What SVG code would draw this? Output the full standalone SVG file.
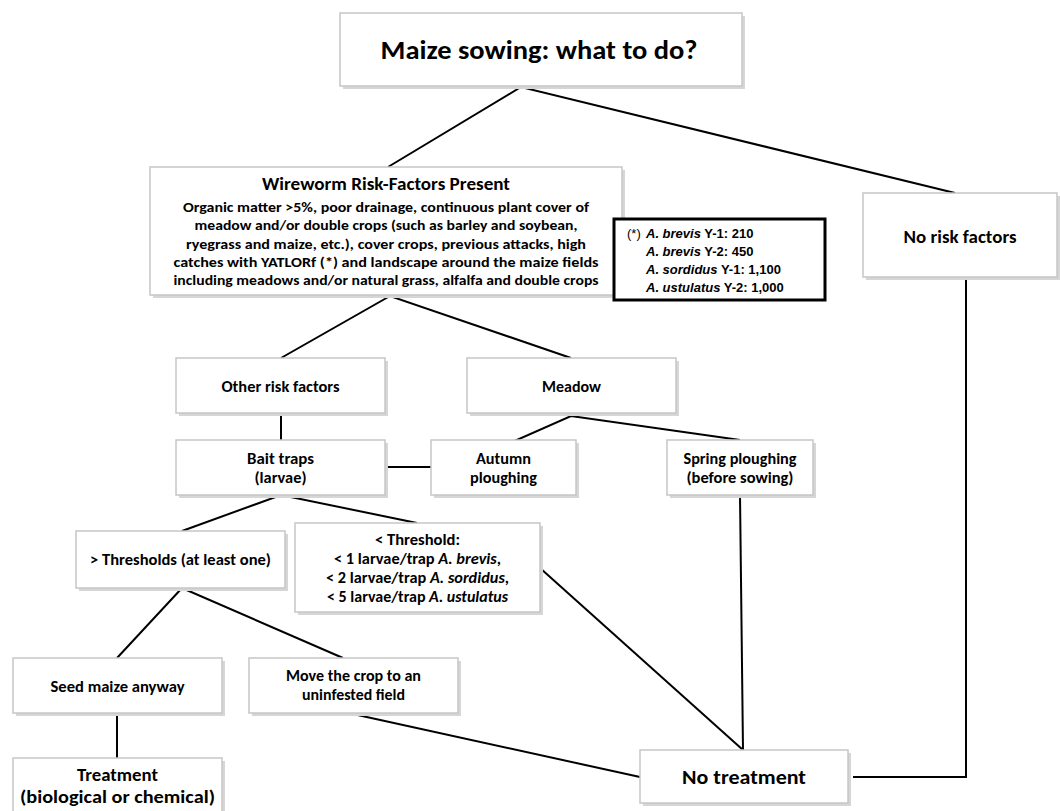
<svg xmlns="http://www.w3.org/2000/svg" width="1060" height="811" viewBox="0 0 1060 811">
<style>
.sh{fill:#d6d6d6}
.bx{fill:#ffffff;stroke:#c6c6c6;stroke-width:1.5}
.t{font-family:Carlito,Lato,"Open Sans",sans-serif;font-weight:700;fill:#000;text-anchor:middle}
.n{font-size:15px}
.c{stroke:#000;stroke-width:2;fill:none}
.ar{font-family:"Liberation Sans",Arial,sans-serif;font-size:13px;font-weight:700;fill:#000}
</style>
<rect width="1060" height="811" fill="#ffffff"/>
<g id="connectors">
<path class="c" d="M388,167 L521,87 L955,193"/>
<path class="c" d="M281,358 L390,296 L571,358"/>
<path class="c" d="M281,413 L281,446"/>
<path class="c" d="M503,446 L571,416 L740,440"/>
<path class="c" d="M385,467 L431,467"/>
<path class="c" d="M182,531 L281,495 L417,523"/>
<path class="c" d="M117,658 L182,588 L343,658"/>
<path class="c" d="M117,713 L117,758"/>
<path class="c" d="M353,714 L640,777"/>
<path class="c" d="M540,568 L743,750"/>
<path class="c" d="M740,495 L743,750"/>
<path class="c" d="M853,777 L966,777 L966,277"/>
</g>
<g id="title">
<rect class="sh" x="343" y="16" width="402" height="73"/>
<rect class="bx" x="340" y="13" width="402" height="73"/>
<text class="t" x="539" y="59" font-size="26" textLength="317" lengthAdjust="spacingAndGlyphs">Maize sowing: what to do?</text>
</g>
<g id="risk-factors">
<rect class="sh" x="153" y="170" width="472" height="128"/>
<rect class="bx" x="150" y="167" width="472" height="128"/>
<text class="t" x="386" y="190" font-size="17" textLength="248" lengthAdjust="spacingAndGlyphs">Wireworm Risk-Factors Present</text>
<text class="t" x="386" y="212" font-size="14" textLength="406" lengthAdjust="spacingAndGlyphs">Organic matter &gt;5%, poor drainage, continuous plant cover of</text>
<text class="t" x="386" y="230" font-size="14" textLength="383" lengthAdjust="spacingAndGlyphs">meadow and/or double crops (such as barley and soybean,</text>
<text class="t" x="386" y="249" font-size="14" textLength="400" lengthAdjust="spacingAndGlyphs">ryegrass and maize, etc.), cover crops, previous attacks, high</text>
<text class="t" x="386" y="267" font-size="14" textLength="425" lengthAdjust="spacingAndGlyphs">catches with YATLORf (*) and landscape around the maize fields</text>
<text class="t" x="386" y="285" font-size="14" textLength="425" lengthAdjust="spacingAndGlyphs">including meadows and/or natural grass, alfalfa and double crops</text>
</g>
<g id="note">
<rect x="614" y="219" width="211" height="81" fill="#ffffff" stroke="#000" stroke-width="3"/>
<text class="ar" x="627" y="238"><tspan font-weight="400">(*)</tspan> <tspan x="646" font-style="italic">A. brevis</tspan> Y-1: 210</text>
<text class="ar" x="646" y="256"><tspan font-style="italic">A. brevis</tspan> Y-2: 450</text>
<text class="ar" x="646" y="274"><tspan font-style="italic">A. sordidus</tspan> Y-1: 1,100</text>
<text class="ar" x="646" y="292"><tspan font-style="italic">A. ustulatus</tspan> Y-2: 1,000</text>
</g>
<g id="no-risk">
<rect class="sh" x="866" y="196" width="194" height="84"/>
<rect class="bx" x="863" y="193" width="194" height="84"/>
<text class="t" x="960" y="243" font-size="17" textLength="113" lengthAdjust="spacingAndGlyphs">No risk factors</text>
</g>
<g id="other-risk">
<rect class="sh" x="179" y="361" width="209" height="55"/>
<rect class="bx" x="176" y="358" width="209" height="55"/>
<text class="t n" x="280.5" y="392" textLength="118" lengthAdjust="spacingAndGlyphs">Other risk factors</text>
</g>
<g id="meadow">
<rect class="sh" x="470" y="361" width="209" height="55"/>
<rect class="bx" x="467" y="358" width="209" height="55"/>
<text class="t n" x="571.5" y="392" textLength="59" lengthAdjust="spacingAndGlyphs">Meadow</text>
</g>
<g id="bait-traps">
<rect class="sh" x="179" y="443" width="209" height="55"/>
<rect class="bx" x="176" y="440" width="209" height="55"/>
<text class="t n" x="280.5" y="464" textLength="67" lengthAdjust="spacingAndGlyphs">Bait traps</text>
<text class="t n" x="280.5" y="483" textLength="52" lengthAdjust="spacingAndGlyphs">(larvae)</text>
</g>
<g id="autumn">
<rect class="sh" x="434" y="443" width="145" height="55"/>
<rect class="bx" x="431" y="440" width="145" height="55"/>
<text class="t n" x="503.5" y="464" textLength="55" lengthAdjust="spacingAndGlyphs">Autumn</text>
<text class="t n" x="503.5" y="483" textLength="67" lengthAdjust="spacingAndGlyphs">ploughing</text>
</g>
<g id="spring">
<rect class="sh" x="670" y="443" width="146" height="55"/>
<rect class="bx" x="667" y="440" width="146" height="55"/>
<text class="t n" x="740" y="464" textLength="113" lengthAdjust="spacingAndGlyphs">Spring ploughing</text>
<text class="t n" x="740" y="483" textLength="107" lengthAdjust="spacingAndGlyphs">(before sowing)</text>
</g>
<g id="above-threshold">
<rect class="sh" x="79" y="534" width="209" height="57"/>
<rect class="bx" x="76" y="531" width="209" height="57"/>
<text class="t n" x="180.5" y="565" textLength="181" lengthAdjust="spacingAndGlyphs">&gt; Thresholds (at least one)</text>
</g>
<g id="below-threshold">
<rect class="sh" x="298" y="526" width="245" height="89"/>
<rect class="bx" x="295" y="523" width="245" height="89"/>
<text class="t n" x="417.5" y="545" textLength="85" lengthAdjust="spacingAndGlyphs">&lt; Threshold:</text>
<text class="t n" x="417.5" y="564" textLength="167" lengthAdjust="spacingAndGlyphs">&lt; 1 larvae/trap <tspan font-style="italic">A. brevis</tspan>,</text>
<text class="t n" x="417.5" y="583" textLength="183" lengthAdjust="spacingAndGlyphs">&lt; 2 larvae/trap <tspan font-style="italic">A. sordidus</tspan>,</text>
<text class="t n" x="417.5" y="602" textLength="181" lengthAdjust="spacingAndGlyphs">&lt; 5 larvae/trap <tspan font-style="italic">A. ustulatus</tspan></text>
</g>
<g id="seed-maize">
<rect class="sh" x="16" y="661" width="209" height="55"/>
<rect class="bx" x="13" y="658" width="209" height="55"/>
<text class="t n" x="117.5" y="692" textLength="134" lengthAdjust="spacingAndGlyphs">Seed maize anyway</text>
</g>
<g id="move-crop">
<rect class="sh" x="252" y="661" width="209" height="55"/>
<rect class="bx" x="249" y="658" width="209" height="55"/>
<text class="t n" x="353.5" y="681" textLength="135" lengthAdjust="spacingAndGlyphs">Move the crop to an</text>
<text class="t n" x="353.5" y="700" textLength="103" lengthAdjust="spacingAndGlyphs">uninfested field</text>
</g>
<g id="treatment">
<rect class="sh" x="16" y="761" width="209" height="60"/>
<rect class="bx" x="13" y="758" width="209" height="60"/>
<text class="t" x="117.5" y="781" font-size="17" textLength="81" lengthAdjust="spacingAndGlyphs">Treatment</text>
<text class="t" x="117.5" y="803" font-size="17" textLength="195" lengthAdjust="spacingAndGlyphs">(biological or chemical)</text>
</g>
<g id="no-treatment">
<rect class="sh" x="643" y="753" width="208" height="53"/>
<rect class="bx" x="640" y="750" width="208" height="53"/>
<text class="t" x="744" y="784" font-size="20" textLength="124" lengthAdjust="spacingAndGlyphs">No treatment</text>
</g>
</svg>
